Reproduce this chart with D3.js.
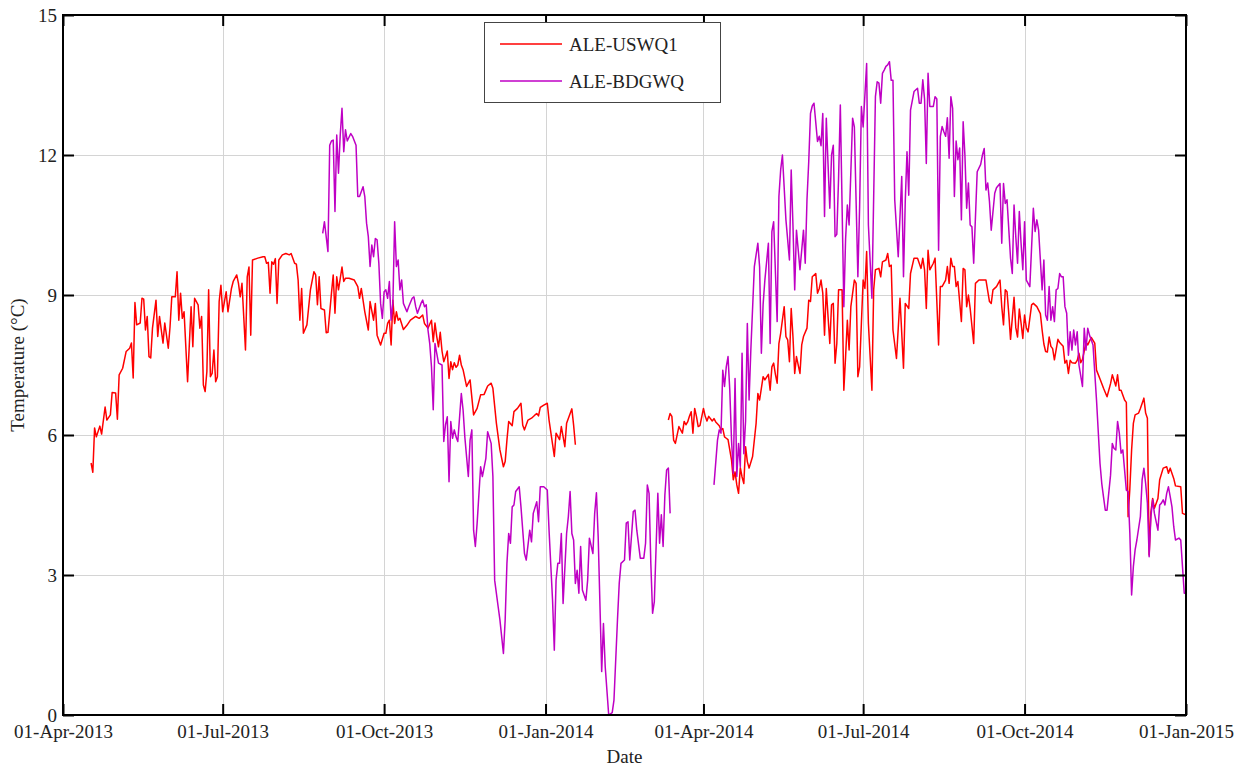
<!DOCTYPE html>
<html><head><meta charset="utf-8">
<script src="https://cdn.jsdelivr.net/npm/d3@7"></script>
<style>
body{margin:0;background:#fff;}
text{font-family:"Liberation Serif","Times New Roman",serif;fill:#222;}
</style>
</head><body>
<svg id="chart" width="1246" height="770"></svg>
<script>
// ---- data: [day offset from startDate, temperature °C] ----
const startDate = "2013-04-01";
const endDate = "2015-01-01";
const yTicks = [0, 3, 6, 9, 12, 15];
const xTickDates = ["2013-04-01","2013-07-01","2013-10-01","2014-01-01","2014-04-01","2014-07-01","2014-10-01","2015-01-01"];
const seriesNames = ["ALE-USWQ1", "ALE-BDGWQ"];
const axisTitles = ["Date", "Temperature (°C)"];

const uswq2013 = [[16,5.4],[17,5.2],[18,6.15],[19,5.96],[21,6.19],[22,6.02],[24,6.6],[25,6.32],[27,6.43],[28,6.91],[30,6.9],[31,6.34],[32,7.29],[34,7.43],[36,7.79],[38,7.86],[39,7.97],[40,7.22],[41,8.84],[42,8.36],[44,8.4],[45,8.93],[46,8.91],[47,8.25],[48,8.54],[49,7.68],[50,7.65],[51,8.29],[53,8.89],[54,8.11],[55,8.54],[57,7.97],[58,8.4],[60,7.86],[61,8.32],[62,8.96],[64,8.96],[65,9.5],[66,8.46],[67,9.04],[68,8.5],[69,8.64],[71,7.14],[73,8.75],[74,7.89],[75,8.93],[77,8.79],[78,8.29],[79,8.54],[80,7.07],[81,6.93],[82,7.36],[83,9.11],[84,7.25],[85,7.32],[86,7.82],[87,7.14],[88,7.25],[89,8.86],[90,9.21],[91,8.64],[93,9.07],[94,8.64],[96,9.14],[97,9.29],[99,9.43],[100,9.25],[101,8.96],[102,9.25],[104,7.82],[105,9.39],[106,9.6],[107,8.14],[108,9.75],[111,9.79],[114,9.82],[115,9.82],[116,9.68],[117,9.7],[118,9.04],[119,9.71],[120,9.66],[121,9.78],[122,8.82],[123,9.75],[125,9.86],[127,9.89],[129,9.86],[130,9.89],[132,9.68],[133,9.66],[134,9.32],[135,8.46],[136,9.14],[137,8.18],[139,8.36],[141,9.11],[143,9.5],[144,9.43],[145,8.79],[146,9.39],[147,8.71],[149,8.68],[150,8.19],[151,8.2],[153,9.04],[154,9.43],[155,8.61],[156,9.39],[157,9.11],[159,9.6],[160,9.29],[161,9.36],[163,9.36],[166,9.32],[168,9.18],[169,8.93],[170,9.14],[172,8.64],[174,8.25],[175,8.86],[177,8.46],[178,8.82],[179,8.14],[181,7.93],[183,8.18],[184,8.18],[185,8.39],[186,8.46],[187,7.93],[188,8.89],[189,8.39],[190,8.64],[191,8.46],[192,8.5],[194,8.26],[196,8.35],[198,8.46],[201,8.54],[203,8.5],[205,8.57],[206,8.39],[208,8.29],[210,8.46],[211,8.0],[212,8.4],[213,8.11],[214,7.89],[215,8.2],[216,7.8],[217,7.57],[218,7.68],[219,7.8],[220,7.21],[221,7.57],[222,7.4],[223,7.55],[224,7.45],[225,7.5],[226,7.71],[227,7.5],[228,7.4],[230,7.04],[232,7.18],[234,6.43],[236,6.57],[238,6.86],[240,6.87],[242,7.05],[244,7.11],[245,7.0],[247,6.25],[249,5.68],[251,5.32],[252,5.43],[253,5.89],[254,6.29],[256,6.2],[257,6.5],[259,6.57],[261,6.68],[262,6.21],[263,6.11],[265,6.32],[267,6.36],[269,6.43],[270,6.46],[271,6.41],[272,6.59],[274,6.64],[276,6.68],[277,6.32],[280,5.54],[281,6.04],[283,5.9],[284,6.18],[286,5.75],[287,6.25],[290,6.56],[291,6.21],[292,5.79]];

const uswq2014 = [[345,6.32],[346,6.46],[347,6.4],[348,5.89],[349,5.82],[351,6.18],[353,6.04],[354,6.29],[355,6.22],[356,6.28],[357,6.4],[358,6.5],[359,6.04],[360,6.57],[361,6.4],[362,6.18],[363,6.2],[365,6.57],[366,6.4],[367,6.3],[368,6.4],[370,6.3],[371,6.35],[372,6.28],[374,6.2],[375,6.11],[376,6.14],[377,5.96],[378,5.93],[379,5.9],[381,5.46],[382,5.04],[383,5.21],[384,4.93],[385,4.75],[386,5.3],[387,5.1],[388,4.96],[389,5.75],[390,5.43],[391,5.29],[393,5.54],[395,6.25],[396,6.89],[397,6.75],[399,7.25],[400,7.18],[402,7.3],[403,6.96],[404,7.46],[405,7.54],[406,7.3],[407,7.11],[408,7.96],[409,8.18],[411,8.75],[412,8.11],[413,8.04],[414,7.57],[415,8.71],[416,8.11],[417,7.32],[418,7.68],[420,7.32],[421,7.93],[422,8.11],[424,8.29],[425,8.89],[426,8.86],[427,9.39],[429,9.46],[430,9.04],[431,9.14],[432,9.32],[433,9.04],[434,8.14],[435,9.14],[436,8.54],[437,7.96],[438,8.79],[439,8.82],[440,7.54],[441,7.96],[442,9.11],[444,9.11],[445,6.96],[446,7.68],[447,8.46],[448,7.82],[449,8.75],[451,9.32],[452,9.25],[453,7.25],[454,7.46],[455,8.39],[456,9.32],[457,9.14],[458,9.93],[459,8.39],[461,6.96],[462,9.11],[463,9.54],[465,9.57],[466,9.39],[467,9.71],[469,9.75],[470,9.89],[471,9.61],[472,9.64],[473,8.25],[475,7.64],[477,8.93],[479,7.43],[480,8.82],[482,8.71],[483,9.46],[485,9.79],[487,9.79],[489,9.57],[490,9.79],[491,9.54],[492,8.71],[493,9.96],[494,9.54],[496,9.68],[497,9.79],[499,7.93],[500,9.18],[501,9.18],[503,9.32],[504,9.61],[505,9.25],[506,9.79],[507,9.61],[508,9.61],[509,9.18],[510,9.29],[512,8.43],[513,9.57],[514,9.54],[515,8.75],[516,9.0],[517,8.71],[519,7.96],[520,9.25],[522,9.32],[525,9.32],[526,9.32],[528,8.86],[529,8.82],[530,9.11],[532,9.18],[534,9.32],[535,8.75],[536,8.36],[537,9.11],[538,9.07],[539,8.6],[540,8.05],[542,8.95],[543,8.3],[544,8.1],[545,8.7],[546,8.4],[547,8.07],[548,8.57],[549,8.3],[550,8.21],[552,8.79],[553,8.82],[555,8.75],[557,8.6],[558,8.25],[559,7.95],[560,7.79],[561,7.78],[562,8.1],[563,7.9],[564,7.85],[565,7.61],[567,8.05],[568,7.98],[570,7.9],[571,7.54],[572,7.6],[573,7.32],[574,7.6],[575,7.55],[577,7.54],[578,7.6],[579,7.75],[580,7.55],[581,7.62],[582,7.8],[583,7.99],[584,7.93],[586,8.09],[588,7.97],[589,7.39],[591,7.2],[593,7.0],[595,6.82],[597,7.1],[598,7.29],[600,7.05],[601,7.29],[602,6.96],[603,6.96],[605,6.75],[606,6.7],[607,4.25],[608,4.85],[609,5.68],[610,6.25],[611,6.43],[613,6.47],[614,6.57],[616,6.79],[617,6.47],[618,6.36],[619,3.43],[620,4.35],[621,4.64],[622,4.43],[624,4.64],[625,5.04],[627,5.29],[629,5.32],[630,5.18],[631,5.29],[633,5.07],[634,4.91],[637,4.89],[638,4.32],[640,4.29]];

const bdgwq2013 = [[148,10.32],[149,10.57],[151,9.93],[152,12.21],[153,12.3],[154,12.32],[155,10.79],[156,12.43],[157,11.61],[158,12.43],[159,13.0],[160,12.07],[161,12.54],[162,12.3],[164,12.46],[165,12.4],[167,12.21],[168,11.11],[169,11.11],[171,11.32],[172,11.11],[173,10.54],[174,10.25],[175,9.61],[176,10.07],[177,9.82],[178,10.21],[179,10.18],[180,9.68],[181,8.82],[182,8.5],[183,9.07],[184,9.11],[185,8.93],[186,9.29],[187,8.46],[188,8.82],[189,10.57],[190,9.61],[191,9.75],[192,9.11],[193,9.32],[194,8.82],[196,8.64],[197,8.75],[199,8.93],[200,8.96],[201,8.75],[202,8.61],[204,8.82],[205,8.89],[206,8.75],[207,8.79],[208,8.25],[209,7.96],[210,7.46],[211,6.54],[212,7.96],[214,7.54],[216,7.5],[217,5.86],[218,6.22],[219,6.39],[220,5.0],[221,6.29],[222,5.93],[223,6.11],[224,5.96],[225,5.86],[227,6.89],[228,6.54],[229,5.96],[231,5.11],[232,5.89],[233,6.11],[234,3.96],[235,3.61],[236,4.1],[238,5.32],[239,5.11],[241,5.5],[242,6.07],[244,5.82],[245,5.11],[246,2.89],[248,2.32],[249,2.04],[251,1.32],[252,2.04],[253,3.25],[254,3.89],[255,3.68],[256,4.46],[257,4.5],[258,4.79],[260,4.89],[261,4.46],[263,3.46],[264,3.32],[266,3.96],[267,3.71],[268,4.32],[270,4.57],[271,4.14],[272,4.89],[274,4.89],[276,4.82],[277,3.96],[279,2.46],[280,1.39],[281,2.89],[282,3.25],[283,3.25],[284,3.89],[285,2.39],[287,3.89],[288,4.25],[289,4.79],[290,3.89],[291,3.75],[292,2.82],[293,3.1],[294,2.61],[295,3.61],[296,2.68],[298,2.46],[299,2.89],[300,3.79],[302,3.46],[303,4.32],[304,4.76],[305,3.82],[307,0.93],[308,1.96],[309,1.04],[311,0.0],[313,0.05],[314,0.32],[316,2.04],[317,2.82],[318,3.25],[320,3.32],[321,4.11],[322,4.14],[323,3.32],[325,4.36],[326,4.39],[327,3.96],[329,3.36],[331,3.36],[332,3.68],[333,4.93],[334,4.75],[335,3.25],[336,2.18],[337,2.43],[339,4.75],[340,3.68],[341,4.29],[342,3.61],[343,4.71],[344,5.25],[345,5.29],[346,4.32]];

const bdgwq2014 = [[371,4.93],[373,5.89],[374,6.11],[375,6.04],[376,7.39],[377,7.04],[378,7.46],[379,7.68],[380,6.96],[381,5.89],[382,5.18],[383,7.21],[384,5.11],[385,5.82],[386,5.32],[387,7.75],[388,5.6],[389,6.3],[390,8.39],[391,6.75],[392,7.82],[394,9.61],[396,10.11],[397,9.6],[398,7.75],[399,8.8],[400,9.32],[402,10.11],[403,7.96],[404,10.36],[405,10.57],[407,8.43],[408,11.11],[409,11.68],[410,12.0],[412,10.61],[414,9.75],[415,11.68],[416,10.5],[417,9.11],[418,10.39],[420,9.54],[422,10.39],[423,9.68],[424,11.04],[425,11.86],[426,12.89],[427,13.05],[428,13.11],[430,12.29],[431,12.4],[432,12.2],[433,12.89],[434,10.68],[435,12.79],[436,11.8],[437,10.86],[438,12.0],[439,12.21],[440,10.25],[441,10.3],[442,11.5],[443,13.07],[445,8.75],[446,10.2],[447,10.93],[448,10.5],[450,12.79],[451,12.6],[453,9.39],[454,10.9],[455,13.04],[456,12.6],[458,13.96],[459,10.5],[461,8.93],[463,13.25],[464,13.57],[465,13.54],[466,13.11],[467,13.75],[468,13.82],[469,13.9],[470,13.93],[471,14.0],[472,13.6],[473,13.6],[474,11.04],[476,9.82],[478,11.54],[479,9.39],[480,11.0],[481,12.07],[482,11.14],[483,12.96],[485,13.36],[487,13.43],[488,13.11],[489,13.11],[490,13.61],[491,13.2],[492,11.82],[493,13.75],[494,13.04],[496,13.04],[497,13.25],[498,13.2],[499,9.96],[500,12.4],[501,12.61],[502,12.5],[503,12.4],[504,12.8],[505,11.93],[506,13.25],[507,13.0],[508,11.11],[509,12.3],[510,11.9],[511,12.15],[512,10.61],[513,12.71],[514,12.0],[515,10.86],[516,11.4],[517,10.5],[518,10.46],[519,9.68],[521,11.64],[523,11.8],[524,12.0],[525,12.14],[526,11.25],[527,11.4],[528,11.0],[529,10.39],[531,11.18],[532,11.3],[534,11.39],[535,10.11],[536,11.39],[537,10.96],[538,11.04],[540,9.79],[541,9.46],[542,10.93],[543,10.25],[544,9.68],[545,10.79],[546,10.11],[547,9.54],[548,10.57],[549,9.32],[551,9.18],[553,10.86],[554,10.36],[555,10.61],[556,10.39],[558,9.11],[559,9.75],[560,8.57],[561,8.46],[562,9.18],[563,8.46],[564,8.75],[565,8.43],[566,9.11],[567,9.14],[568,9.46],[569,9.39],[570,9.39],[571,8.75],[572,8.61],[573,7.71],[574,8.21],[575,7.82],[576,8.25],[577,7.93],[578,8.21],[579,7.5],[581,7.04],[582,8.29],[583,7.82],[584,8.29],[585,8.14],[586,8.04],[587,7.93],[589,6.75],[591,5.39],[592,4.96],[593,4.67],[594,4.39],[595,4.39],[597,5.14],[598,5.82],[599,5.71],[600,5.68],[601,6.29],[602,6.04],[603,5.61],[604,5.68],[606,4.82],[607,4.79],[608,3.89],[609,2.57],[610,3.18],[611,3.54],[612,3.75],[614,4.25],[615,5.04],[616,5.29],[617,4.96],[618,4.54],[619,3.39],[620,4.25],[621,4.61],[622,4.32],[624,3.96],[625,4.5],[626,4.54],[627,4.61],[628,4.5],[629,4.75],[630,4.89],[631,4.68],[632,4.46],[633,4.04],[634,3.75],[636,3.79],[637,3.75],[638,3.18],[639,2.61],[640,2.61]];

// ---- layout & styles ----
const W = 1246, H = 770;
const plot = {left: 63, top: 15, right: 1186, bottom: 715};
const colors = ["#ff0000", "#bf00c4"];
const fontSize = 19;

const parse = d3.utcParse("%Y-%m-%d");
const t0 = parse(startDate);
const svg = d3.select("#chart");

const x = d3.scaleUtc().domain([t0, parse(endDate)]).range([plot.left, plot.right]);
const y = d3.scaleLinear().domain([yTicks[0], yTicks[yTicks.length - 1]]).range([plot.bottom, plot.top]);
const xTicks = xTickDates.map(parse);
const fmt = d3.utcFormat("%d-%b-%Y");

// grid
const grid = svg.append("g").attr("stroke", "#d4d4d4").attr("stroke-width", 1);
grid.selectAll("line.v").data(xTicks.slice(1, -1)).join("line")
  .attr("x1", d => Math.round(x(d)) + 0.5).attr("x2", d => Math.round(x(d)) + 0.5)
  .attr("y1", plot.top).attr("y2", plot.bottom);
grid.selectAll("line.h").data(yTicks.slice(1, -1)).join("line")
  .attr("y1", d => Math.round(y(d)) + 0.5).attr("y2", d => Math.round(y(d)) + 0.5)
  .attr("x1", plot.left).attr("x2", plot.right);

// clip
svg.append("defs").append("clipPath").attr("id", "clip")
  .append("rect").attr("x", plot.left).attr("y", plot.top)
  .attr("width", plot.right - plot.left).attr("height", plot.bottom - plot.top);

const line = d3.line()
  .x(d => x(d3.utcDay.offset(t0, d[0])))
  .y(d => y(d[1]));

const series = [
  {name: seriesNames[0], color: colors[0], segments: [uswq2013, uswq2014]},
  {name: seriesNames[1], color: colors[1], segments: [bdgwq2013, bdgwq2014]}
];
const lines = svg.append("g").attr("clip-path", "url(#clip)");
series.forEach(s => {
  s.segments.forEach(seg => {
    lines.append("path").datum(seg)
      .attr("fill", "none").attr("stroke", s.color)
      .attr("stroke-width", 1.5).attr("stroke-linejoin", "round")
      .attr("d", line);
  });
});

// axes
function styleAxis(g) {
  g.select(".domain").remove();
  g.selectAll(".tick line").attr("stroke", "#000").attr("stroke-width", 2);
  g.selectAll("text").attr("font-size", fontSize).attr("fill", "#222")
    .attr("font-family", '"Liberation Serif","Times New Roman",serif');
}
svg.append("g").attr("transform", `translate(0,${plot.bottom})`)
  .call(d3.axisBottom(x).tickValues(xTicks).tickFormat(fmt).tickSizeInner(-11).tickSizeOuter(0).tickPadding(10))
  .call(styleAxis);
svg.append("g").attr("transform", `translate(0,${plot.top})`)
  .call(d3.axisTop(x).tickValues(xTicks).tickFormat("").tickSizeInner(-11).tickSizeOuter(0))
  .call(styleAxis);
svg.append("g").attr("transform", `translate(${plot.left},0)`)
  .call(d3.axisLeft(y).tickValues(yTicks).tickFormat(d3.format("d")).tickSizeInner(-11).tickSizeOuter(0).tickPadding(6))
  .call(styleAxis);
svg.append("g").attr("transform", `translate(${plot.right},0)`)
  .call(d3.axisRight(y).tickValues(yTicks).tickFormat("").tickSizeInner(-11).tickSizeOuter(0))
  .call(styleAxis);

// frame
svg.append("rect").attr("x", plot.left).attr("y", plot.top)
  .attr("width", plot.right - plot.left).attr("height", plot.bottom - plot.top)
  .attr("fill", "none").attr("stroke", "#000").attr("stroke-width", 2);

// axis titles
svg.append("text").attr("x", (plot.left + plot.right) / 2).attr("y", 763)
  .attr("text-anchor", "middle").attr("font-size", fontSize).text(axisTitles[0]);
svg.append("text").attr("transform", `translate(24,${(plot.top + plot.bottom) / 2}) rotate(-90)`)
  .attr("text-anchor", "middle").attr("font-size", fontSize).text(axisTitles[1]);

// legend
const lg = svg.append("g");
lg.append("rect").attr("x", 484.5).attr("y", 22.5).attr("width", 236).attr("height", 80)
  .attr("fill", "#fff").attr("stroke", "#444").attr("stroke-width", 1);
series.forEach((s, i) => {
  const yy = 44 + i * 37;
  lg.append("line").attr("x1", 500).attr("x2", 562).attr("y1", yy).attr("y2", yy)
    .attr("stroke", s.color).attr("stroke-width", 1.5);
  lg.append("text").attr("x", 569).attr("y", yy).attr("dy", "0.35em")
    .attr("font-size", fontSize).text(s.name);
});
</script>
</body></html>
